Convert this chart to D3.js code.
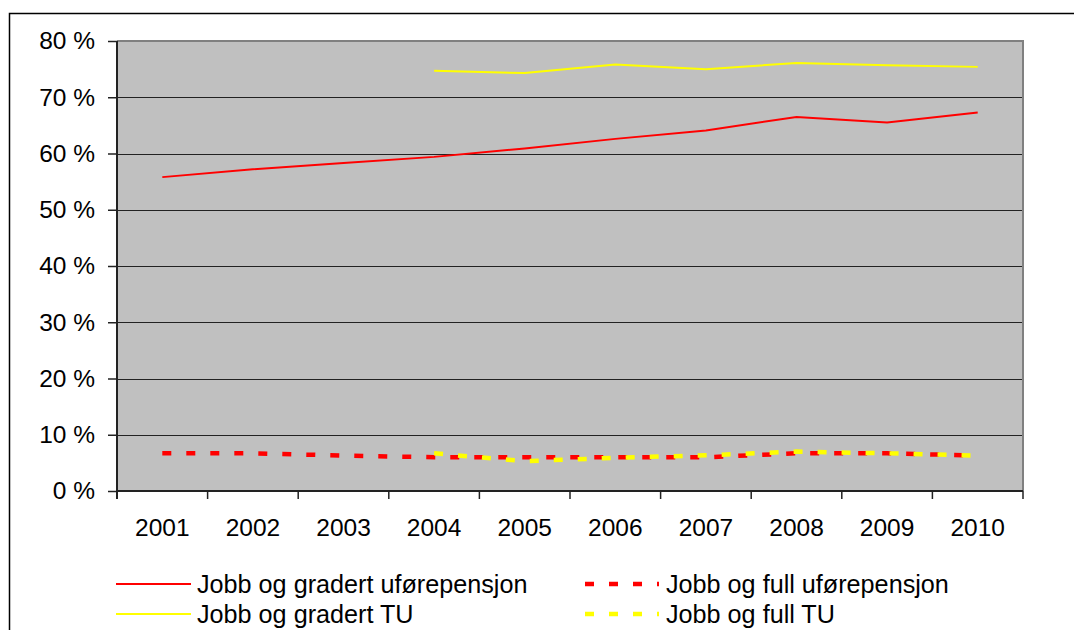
<!DOCTYPE html>
<html><head><meta charset="utf-8">
<script src="https://cdn.jsdelivr.net/npm/d3@7"></script>
<style>body{margin:0;background:#fff}svg{display:block}text{font-family:"Liberation Sans",Arial,sans-serif;fill:#000}</style>
</head><body><svg id="c" width="1074" height="630"></svg>
<script>
const years = ["2001","2002","2003","2004","2005","2006","2007","2008","2009","2010"];
const yTicks = [0,10,20,30,40,50,60,70,80];
const gradertUP = [55.8,57.2,58.3,59.4,60.9,62.6,64.1,66.5,65.5,67.3];
const gradertTU = [null,null,null,74.7,74.3,75.8,75.0,76.1,75.7,75.4];
const fullUP = [6.7,6.7,6.3,6.0,6.0,6.0,6.0,6.7,6.7,6.3];
const fullTU = [null,null,null,6.7,5.3,5.9,6.35,7.0,6.7,6.3];
const seriesNames = ["Jobb og gradert uførepensjon","Jobb og full uførepensjon","Jobb og gradert TU","Jobb og full TU"];

const svg = d3.select("#c");
const L=117, R=1023, T=41, B=491;
const x = d3.scaleBand().domain(years).range([L,R]);
const y = d3.scaleLinear().domain([0,80]).range([B,T]);

// outer border
svg.append("rect").attr("x",9.5).attr("y",13.5).attr("width",1100).attr("height",700)
  .attr("fill","none").attr("stroke","#000").attr("stroke-width",1.5);

// plot background
svg.append("rect").attr("x",L).attr("y",T).attr("width",R-L).attr("height",B-T).attr("fill","#C0C0C0");

// gridlines
svg.append("g").selectAll("line").data(yTicks.filter(d=>d>0 && d<80)).join("line")
  .attr("x1",L).attr("x2",R).attr("y1",d=>Math.round(y(d))+0.5).attr("y2",d=>Math.round(y(d))+0.5)
  .attr("stroke","#222").attr("stroke-width",1);

// plot border top/right grey
svg.append("path").attr("d",`M${L},${T} H${R} V${B}`).attr("fill","none").attr("stroke","#808080").attr("stroke-width",2);

// y axis
const yAxis = d3.axisLeft(y).tickValues(yTicks).tickSize(9).tickPadding(13).tickFormat(d=>d+" %");
const gy = svg.append("g").attr("transform",`translate(${L},0)`).call(yAxis);
gy.select(".domain").attr("stroke","#222").attr("stroke-width",2).attr("d",`M0,${T}V${B+8}`);
gy.selectAll(".tick line").attr("stroke","#222").attr("stroke-width",1.5);
gy.selectAll(".tick text").attr("font-size",24.5).attr("font-family","Liberation Sans, Arial, sans-serif").attr("fill","#000");

// x axis
const xAxis = d3.axisBottom(x).tickSize(0).tickPadding(28);
const gx = svg.append("g").attr("transform",`translate(0,${B})`).call(xAxis);
gx.select(".domain").attr("stroke","#222").attr("stroke-width",2).attr("d",`M${L},0H${R}`);
gx.selectAll(".tick text").attr("font-size",24.5).attr("font-family","Liberation Sans, Arial, sans-serif").attr("fill","#000");
// boundary ticks
const bounds = years.map(d=>x(d)).concat([R]);
svg.append("g").selectAll("line").data(bounds).join("line")
  .attr("x1",d=>d).attr("x2",d=>d).attr("y1",B).attr("y2",B+8).attr("stroke","#222").attr("stroke-width",1.5);

const cx = d=>x(d)+x.bandwidth()/2;
function drawLine(vals,color,dashed){
  const data = years.map((yr,i)=>({yr,v:vals[i]}));
  const line = d3.line().defined(d=>d.v!=null).x(d=>cx(d.yr)).y(d=>y(d.v));
  const p = svg.append("path").datum(data).attr("d",line).attr("fill","none").attr("stroke",color);
  if(dashed) p.attr("stroke-width",4.5).attr("stroke-dasharray","9,15");
  else p.attr("stroke-width",2);
}
drawLine(gradertUP,"#FF0000",false);
drawLine(gradertTU,"#FFFF00",false);
drawLine(fullUP,"#FF0000",true);
drawLine(fullTU,"#FFFF00",true);

// legend
const leg = [
  {name:seriesNames[0],color:"#FF0000",dashed:false,lx:116,tx:197,y:584},
  {name:seriesNames[1],color:"#FF0000",dashed:true,lx:585,tx:666,y:584},
  {name:seriesNames[2],color:"#FFFF00",dashed:false,lx:116,tx:197,y:614},
  {name:seriesNames[3],color:"#FFFF00",dashed:true,lx:585,tx:666,y:614}
];
const lg = svg.append("g").selectAll("g").data(leg).join("g");
lg.append("line").attr("x1",d=>d.lx).attr("x2",d=>d.dashed?d.lx+74:d.lx+75).attr("y1",d=>d.y).attr("y2",d=>d.y)
  .attr("stroke",d=>d.color).attr("stroke-width",d=>d.dashed?4.5:2).attr("stroke-dasharray",d=>d.dashed?"9,15":null);
lg.append("text").attr("x",d=>d.tx).attr("y",d=>d.y).attr("dy","0.35em").attr("font-size",25.2).text(d=>d.name);
</script></body></html>
